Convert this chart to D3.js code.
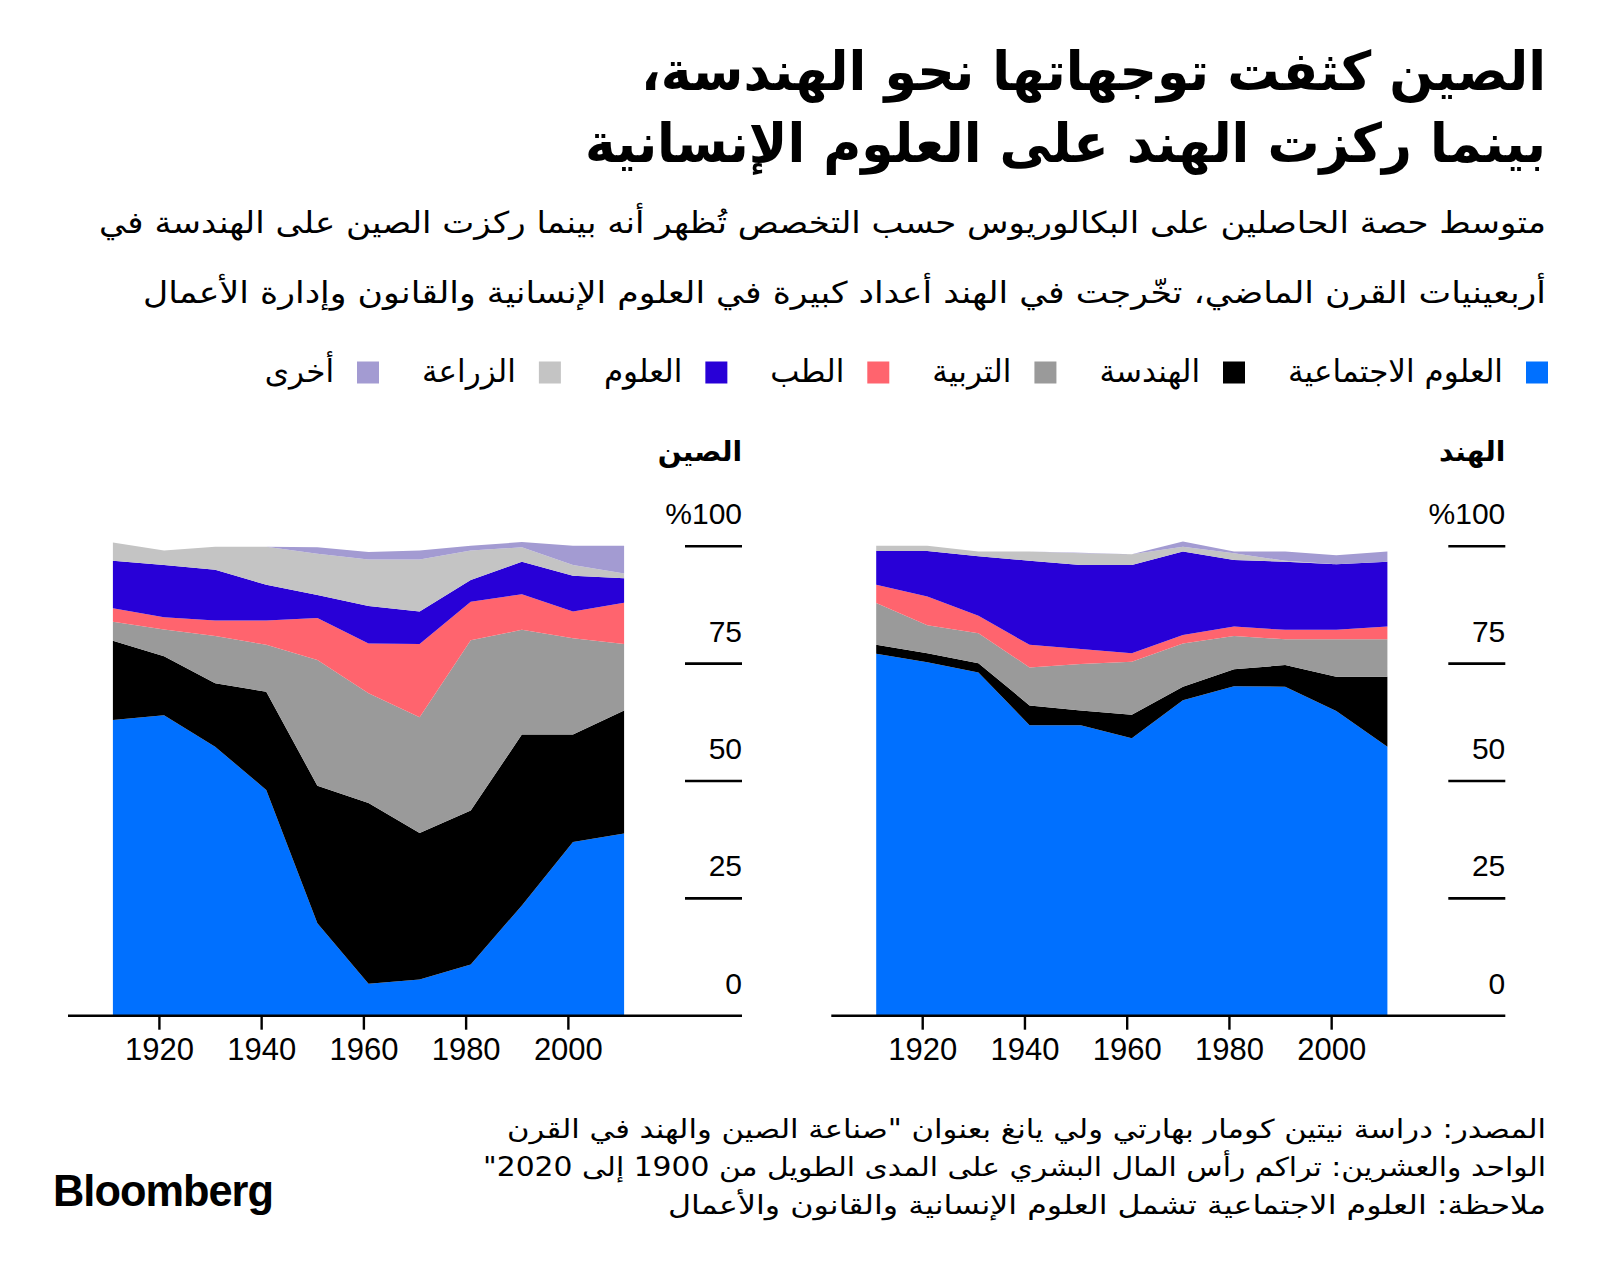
<!DOCTYPE html>
<html lang="ar">
<head>
<meta charset="utf-8">
<script src="https://cdn.jsdelivr.net/npm/d3@7"></script>
<style>
  html, body { margin: 0; padding: 0; background: #fff; }
  svg { display: block; }
  text { font-family: "DejaVu Sans", sans-serif; fill: #000; }
  .num { font-family: "Liberation Sans", Arial, sans-serif; }
</style>
</head>
<body>
<svg id="chart" width="1600" height="1272"></svg>
<script>
// ---------------- DATA ----------------
const years = [1911, 1921, 1931, 1941, 1951, 1961, 1971, 1981, 1991, 2001, 2011];
const categories = ["العلوم الاجتماعية", "الهندسة", "التربية", "الطب", "العلوم", "الزراعة", "أخرى"];
const categoryKeys = ["social", "engineering", "education", "medicine", "sciences", "agriculture", "other"];
const categoryColors = ["#0070ff", "#000000", "#9a9a9a", "#ff646e", "#2800d7", "#c4c4c4", "#a39bd2"];

// China – share of graduates by field (%)
const chinaSocial      = [63.0, 64.0, 57.3, 48.1, 19.7, 6.8, 7.7, 10.9, 23.5, 37.0, 38.8];
const chinaEngineering = [16.9, 12.6, 13.5, 20.9, 29.3, 38.5, 31.2, 32.8, 36.4, 22.9, 26.2];
const chinaEducation   = [4.0, 5.7, 10.1, 10.0, 26.8, 23.4, 24.7, 36.3, 22.3, 20.5, 14.2];
const chinaMedicine    = [2.9, 2.6, 3.3, 5.2, 8.9, 10.6, 15.6, 8.2, 7.6, 5.7, 8.8];
const chinaSciences    = [10.1, 11.1, 10.8, 7.6, 4.9, 8.0, 6.9, 4.6, 6.9, 7.6, 5.2];
const chinaAgriculture = [3.9, 3.1, 4.9, 8.1, 8.8, 9.9, 11.1, 6.3, 3.1, 2.3, 1.0];
const chinaOther       = [0.0, 0.0, 0.0, 0.0, 1.4, 1.6, 1.9, 1.0, 1.1, 4.1, 5.9];

// India – share of graduates by field (%)
const indiaSocial      = [77.1, 75.3, 73.1, 61.9, 61.9, 59.1, 67.2, 70.2, 70.1, 64.9, 57.3];
const indiaEngineering = [1.9, 1.9, 2.0, 4.2, 3.1, 5.0, 2.9, 3.6, 4.6, 7.3, 14.9];
const indiaEducation   = [8.9, 6.0, 6.4, 8.1, 9.9, 11.3, 9.2, 7.1, 5.5, 8.0, 8.0];
const indiaMedicine    = [3.9, 6.1, 3.7, 4.8, 3.2, 1.8, 1.8, 2.0, 2.0, 2.0, 2.7];
const indiaSciences    = [7.2, 9.7, 12.7, 17.9, 17.9, 18.8, 17.8, 14.2, 14.5, 14.0, 13.8];
const indiaAgriculture = [1.1, 1.1, 1.0, 2.0, 2.5, 2.3, 1.0, 1.4, 0.2, 0.0, 0.0];
const indiaOther       = [0.0, 0.0, 0.0, 0.0, 0.1, 0.0, 1.1, 0.4, 2.0, 1.9, 2.2];

const xTickValues = [1920, 1940, 1960, 1980, 2000];
const yTickValues = [0, 25, 50, 75, 100];
const yTickLabels = ["0", "25", "50", "75", "%100"];

const titleLines = ["الصين كثفت توجهاتها نحو الهندسة،", "بينما ركزت الهند على العلوم الإنسانية"];
const subtitleLines = [
  "متوسط حصة الحاصلين على البكالوريوس حسب التخصص تُظهر أنه بينما ركزت الصين على الهندسة في",
  "أربعينيات القرن الماضي، تخّرجت في الهند أعداد كبيرة في العلوم الإنسانية والقانون وإدارة الأعمال"
];
const footLines = [
  "المصدر: دراسة نيتين كومار بهارتي ولي يانغ بعنوان \"صناعة الصين والهند في القرن",
  "الواحد والعشرين: تراكم رأس المال البشري على المدى الطويل من 1900 إلى 2020\"",
  "ملاحظة: العلوم الاجتماعية تشمل العلوم الإنسانية والقانون والأعمال"
];
const panelTitles = ["الصين", "الهند"];

// ---------------- BUILD TABLES ----------------
function buildTable(series) {
  return years.map((yr, i) => {
    const row = { year: yr };
    categoryKeys.forEach((k, j) => { row[k] = series[j][i]; });
    return row;
  });
}
const chinaTable = buildTable([chinaSocial, chinaEngineering, chinaEducation, chinaMedicine, chinaSciences, chinaAgriculture, chinaOther]);
const indiaTable = buildTable([indiaSocial, indiaEngineering, indiaEducation, indiaMedicine, indiaSciences, indiaAgriculture, indiaOther]);

// ---------------- DRAW ----------------
const svg = d3.select("#chart");
const stack = d3.stack().keys(categoryKeys);
const color = d3.scaleOrdinal().domain(categoryKeys).range(categoryColors);

function rtlText(x, y, str, size, weight, len) {
  const t = svg.append("text")
    .attr("x", x).attr("y", y)
    .attr("direction", "rtl")
    .attr("text-anchor", "start")
    .style("font-size", size + "px")
    .style("font-weight", weight)
    .text(str);
  if (len) t.attr("textLength", len).attr("lengthAdjust", "spacingAndGlyphs");
  return t;
}

// Title
rtlText(1546, 90, titleLines[0], 54, "bold", 905);
rtlText(1546, 162, titleLines[1], 54, "bold", 961);
// Subtitle
rtlText(1546, 233, subtitleLines[0], 30, "normal", 1447);
rtlText(1546, 303, subtitleLines[1], 30, "normal", 1403);

// Legend (flow layout right-to-left)
{
  let xr = 1548;
  const sq = 22;
  categories.forEach((name, i) => {
    svg.append("rect")
      .attr("x", xr - sq).attr("y", 361.5)
      .attr("width", sq).attr("height", sq)
      .attr("fill", categoryColors[i]);
    const t = rtlText(xr - sq - 23, 382, name, 31, "normal");
    const w = t.node().getComputedTextLength();
    xr = xr - sq - 23 - w - 43;
  });
}

function panel(table, x0, title) {
  const x = d3.scaleLinear().domain([years[0], years[years.length - 1]]).range([x0 + 112.9, x0 + 624.1]);
  const y = d3.scaleLinear().domain([0, 100]).range([1015.7, 546.3]);
  const series = stack(table);
  const area = d3.area()
    .x(d => x(d.data.year))
    .y0(d => y(d[0]))
    .y1(d => y(d[1]));

  svg.append("g").selectAll("path").data(series).join("path")
    .attr("d", area)
    .attr("fill", d => color(d.key));

  // right-side value marks
  const gy = svg.append("g");
  gy.selectAll("line").data(yTickValues.filter(v => v > 0)).join("line")
    .attr("x1", x0 + 685).attr("x2", x0 + 742)
    .attr("y1", d => y(d)).attr("y2", d => y(d))
    .attr("stroke", "#000").attr("stroke-width", 2.6);
  gy.selectAll("text").data(yTickValues).join("text")
    .attr("class", "num")
    .attr("x", x0 + 742).attr("y", d => y(d) - 22)
    .attr("text-anchor", "end")
    .style("font-size", "30px")
    .text((d, i) => yTickLabels[i]);

  // baseline
  svg.append("line")
    .attr("x1", x0 + 68).attr("x2", x0 + 742)
    .attr("y1", y(0)).attr("y2", y(0))
    .attr("stroke", "#000").attr("stroke-width", 2.4);

  // x axis
  const xAxis = d3.axisBottom(x).tickValues(xTickValues).tickSize(14).tickFormat(d3.format("d"));
  const gx = svg.append("g").attr("transform", `translate(0,${y(0)})`).call(xAxis);
  gx.select(".domain").remove();
  gx.selectAll(".tick line").attr("stroke", "#000").attr("stroke-width", 2.4);
  gx.selectAll(".tick text")
    .attr("class", "num")
    .attr("y", 44).attr("dy", 0)
    .style("font-size", "31px")
    .style("font-family", "Liberation Sans, Arial, sans-serif")
    .attr("fill", "#000");

  rtlText(x0 + 742, 461, title, 28, "bold");
}

panel(chinaTable, 0, panelTitles[0]);
panel(indiaTable, 763.3, panelTitles[1]);

// Footnotes
rtlText(1546, 1138, footLines[0], 26, "normal", 1039);
rtlText(1546, 1176, footLines[1], 26, "normal", 1063);
rtlText(1546, 1214, footLines[2], 26, "normal", 878);

// Logo
svg.append("text")
  .attr("x", 53).attr("y", 1206)
  .style("font-family", "Liberation Sans, Arial, sans-serif")
  .style("font-weight", "bold")
  .style("font-size", "44px")
  .style("letter-spacing", "-1px")
  .attr("textLength", 220)
  .attr("lengthAdjust", "spacingAndGlyphs")
  .text("Bloomberg");
</script>
</body>
</html>
